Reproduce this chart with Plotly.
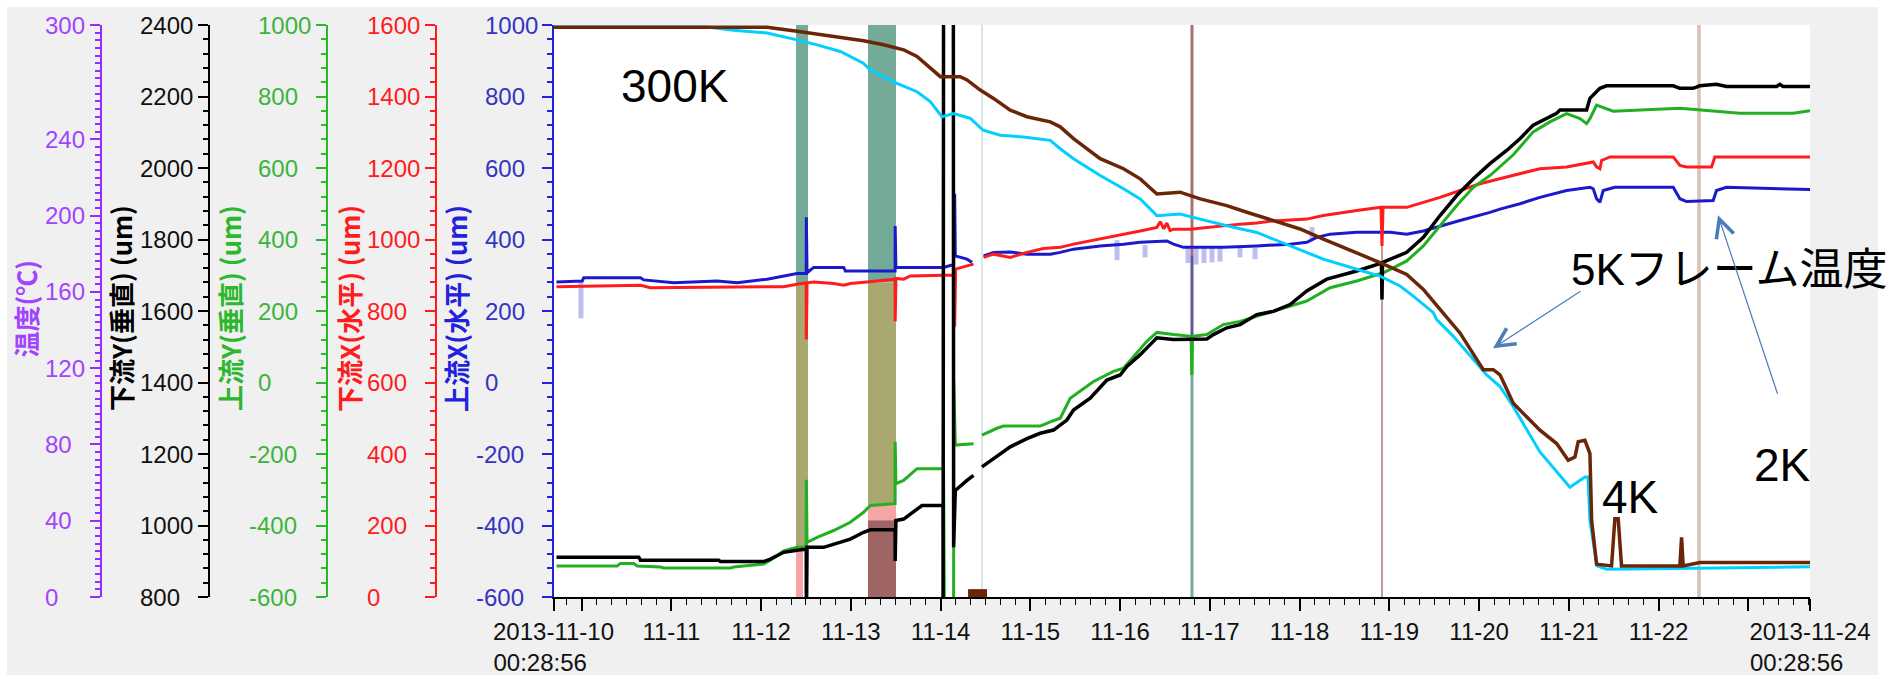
import pandas as pd
import plotly.graph_objects as go

START = pd.Timestamp("2013-11-10 00:28:56")


def to_time(days):
    return [None if d is None else START + pd.Timedelta(days=d) for d in days]


# ---------------- data (x in days since 2013-11-10 00:28:56) ----------------
# 上流X(水平) blue axis
blue_d = [0.033, 0.320, 0.337, 0.969, 1.006, 1.340, 1.823, 2.046, 2.380, 2.565, 2.714, 2.816, 2.817, 2.825,
          2.899, 3.233, 3.252, 3.806, 3.807, 3.815, 4.346, 4.458, 4.470, 4.477, 4.607, 4.663, 4.720, 4.792,
          4.903, 5.089, 5.275, 5.535, 5.646, 5.794, 6.091, 6.351, 6.537, 6.834, 6.908, 7.019, 7.464, 7.836,
          8.207, 8.393, 8.504, 8.653, 8.950, 9.321, 9.507, 9.692, 9.878, 10.100, 10.434, 10.546, 10.768,
          10.991, 11.288, 11.548, 11.585, 11.622, 11.659, 11.696, 11.826, 12.476, 12.550, 12.625, 12.921,
          12.958, 13.069, 13.589, 14.0]
blue_v = [281, 284, 293, 293, 287, 279, 284, 279, 289, 298, 305, 305, 462, 307,
          322, 322, 312, 312, 438, 322, 322, 330, 528, 354, 345, 336, None, 354,
          364, 365, 359, 359, 364, 373, 382, 387, 392, 396, 387, 378, 378, 382,
          387, 392, 406, 415, 420, 420, 415, 424, 438, 453, 476, 485, 500,
          518, 537, 546, 542, 514, 504, 537, 546, 546, 514, 506, 509,
          537, 546, 542, 540]

# 下流X(水平) red axis
red_d = [0.033, 0.969, 1.080, 2.565, 2.714, 2.816, 2.817, 2.825, 2.899, 3.121, 3.233, 3.307, 3.493, 3.806,
         3.807, 3.815, 3.901, 3.976, 4.346, 4.468, 4.470, 4.480, 4.680, 4.720, 4.792, 4.903, 5.089, 5.275,
         5.460, 5.646, 5.794, 6.091, 6.351, 6.537, 6.723, 6.760, 6.800, 6.834, 6.870, 6.908, 7.094, 7.279,
         7.464, 7.650, 7.836, 8.021, 8.393, 8.578, 8.950, 9.220, 9.231, 9.243, 9.507, 9.692, 9.878, 10.100,
         10.323, 10.620, 10.991, 11.288, 11.548, 11.585, 11.622, 11.659, 11.678, 11.771, 12.476, 12.550,
         12.625, 12.903, 12.940, 14.0]
red_v = [868, 872, 865, 868, 875, 879, 720, 879, 881, 877, 872, 877, 881, 889,
         771, 891, 889, 898, 900, 900, 756, 917, 931, None, 950, 959, 950, 964,
         975, 978, 987, 1001, 1015, 1024, 1034, 1050, 1030, 1046, 1025, 1029, 1029, 1034,
         1038, 1043, 1046, 1052, 1057, 1067, 1081, 1090, 982, 1090, 1090, 1104, 1118, 1137,
         1156, 1175, 1198, 1203, 1217, 1217, 1203, 1198, 1221, 1231, 1231, 1207,
         1203, 1203, 1231, 1231]

# 上流Y(垂直) green axis
green_d = [0.033, 0.709, 0.746, 0.894, 0.932, 1.192, 1.228, 1.971, 2.008, 2.342, 2.416, 2.565, 2.714, 2.816,
           2.817, 2.825, 2.937, 3.121, 3.307, 3.455, 3.530, 3.806, 3.807, 3.815, 3.901, 4.050, 4.346, 4.357,
           4.458, 4.459, 4.477, 4.680, 4.720, 4.774, 4.941, 5.014, 5.423, 5.535, 5.646, 5.757, 6.017, 6.239,
           6.351, 6.611, 6.723, 6.908, 7.104, 7.112, 7.120, 7.279, 7.464, 7.650, 8.021, 8.393, 8.653, 8.950,
           9.246, 9.507, 9.692, 9.878, 10.064, 10.249, 10.434, 10.694, 10.916, 11.102, 11.288, 11.437,
           11.511, 11.548, 11.622, 11.807, 12.550, 13.218, 13.812, 14.0]
green_v = [-513, -513, -506, -506, -513, -516, -519, -519, -516, -508, -497, -471, -461, -461,
           -272, -447, -433, -414, -391, -363, -344, -339, -166, -283, -274, -241, -241, -700,
           -700, 7, -175, -171, None, -147, -128, -122, -122, -110, -100, -44, 3, 31,
           40, 115, 140, 134, 129, 21, 129, 134, 162, 171, 199, 228, 265, 284,
           307, 340, 382, 438, 495, 546, 579, 637, 701, 729, 752, 738,
           724, 738, 776, 759, 767, 753, 753, 760]

# 下流Y(垂直) black axis
black_d = [0.033, 0.950, 0.969, 1.841, 1.860, 2.342, 2.416, 2.565, 2.714, 2.816, 2.817, 2.825, 3.010, 3.121,
           3.307, 3.455, 3.530, 3.806, 3.807, 3.815, 3.901, 4.050, 4.106, 4.340, 4.341, 4.346, 4.455, 4.458,
           4.477, 4.607, 4.680, 4.720, 4.774, 4.903, 5.089, 5.275, 5.423, 5.571, 5.720, 5.794, 5.980, 6.166,
           6.314, 6.389, 6.537, 6.648, 6.723, 6.908, 7.094, 7.279, 7.353, 7.502, 7.650, 7.836, 8.021, 8.207,
           8.393, 8.616, 8.950, 9.135, 9.225, 9.231, 9.237, 9.507, 9.692, 9.878, 10.064, 10.249, 10.434,
           10.620, 10.768, 10.916, 11.177, 11.214, 11.511, 11.548, 11.659, 11.734, 12.476, 12.550, 12.698,
           12.773, 12.958, 13.069, 13.627, 13.664, 13.700, 14.0]
black_v = [911, 911, 903, 903, 899, 899, 906, 925, 931, 934, 700, 939, 939, 948,
           962, 981, 988, 988, 901, 1014, 1018, 1047, 1056, 1056, 700, 2500, 2500, 939,
           1098, 1126, 1140, None, 1164, 1187, 1220, 1243, 1258, 1267, 1295, 1323, 1356, 1407,
           1421, 1445, 1478, 1506, 1525, 1520, 1520, 1522, 1534, 1553, 1562, 1590, 1599, 1618,
           1656, 1689, 1712, 1726, 1734, 1632, 1736, 1764, 1806, 1867, 1923, 1970, 2012,
           2049, 2082, 2120, 2153, 2162, 2162, 2195, 2223, 2230, 2230, 2223, 2223,
           2230, 2234, 2228, 2228, 2234, 2228, 2228]

# 温度 purple axis (two temperature sensors)
cyan_d = [0, 1.712, 2.004, 2.380, 2.714, 2.937, 3.196, 3.452, 3.530, 3.827, 4.050, 4.198, 4.328, 4.458,
          4.644, 4.788, 4.978, 5.234, 5.535, 5.646, 5.794, 6.091, 6.351, 6.537, 6.723, 6.982, 7.205, 7.502,
          7.836, 8.207, 8.578, 8.950, 9.209, 9.432, 9.580, 9.803, 9.841, 10.026, 10.398, 10.546, 10.694,
          10.991, 11.325, 11.492, 11.526, 11.548, 11.626, 11.737, 14.0]
cyan_v = [299, 299, 297.2, 295.8, 292.2, 289.6, 286.1, 280.0, 276.4, 269.4, 265.0, 259.8, 251.9, 253.6,
          251.0, 244.8, 242.2, 241.3, 239.5, 235.1, 229.9, 221.1, 214.1, 208.8, 200.0, 200.9, 198.2, 194.7,
          191.2, 184.2, 177.2, 171.9, 168.3, 163.1, 157.8, 149.1, 145.5, 136.7, 116.5, 110.4, 99.8,
          76.1, 57.6, 62.9, 62.9, 40.1, 16.3, 14.6, 15.8]

brown_d = [0, 2.380, 2.714, 2.937, 3.196, 3.455, 3.678, 3.827, 3.901, 4.050, 4.310, 4.532, 4.607, 4.755,
           4.903, 5.089, 5.275, 5.535, 5.646, 5.794, 6.091, 6.351, 6.537, 6.723, 6.982, 7.205, 7.502, 7.725,
           8.021, 8.318, 8.578, 8.950, 9.209, 9.507, 9.692, 9.878, 10.100, 10.360, 10.471, 10.546, 10.694,
           10.843, 10.991, 11.177, 11.306, 11.381, 11.417, 11.492, 11.548, 11.567, 11.622, 11.789, 11.826,
           11.863, 11.900, 12.476, 12.550, 12.569, 12.587, 12.773, 14.0]
brown_v = [298.8, 298.8, 296.7, 295.3, 293.5, 291.7, 289.6, 287.9, 287.0, 283.5, 272.9, 272.9, 271.2, 265.9,
           261.5, 255.3, 251.9, 249.2, 246.6, 240.4, 229.9, 224.6, 219.3, 211.4, 212.3, 208.8, 205.3, 201.8,
           197.3, 193.0, 187.7, 180.7, 175.4, 169.2, 161.3, 150.8, 138.5, 119.2, 119.2, 116.5, 101.6,
           94.5, 87.5, 80.5, 71.7, 73.4, 81.4, 82.2, 75.2, 40.1, 17.2, 16.3, 41.0,
           41.0, 16.3, 16.3, 16.3, 31.3, 16.3, 18.1, 18.1]

# shaded event bands (blue-axis units)
band_start = [2.702, 2.702, 2.702, 3.504, 3.504, 3.504, 3.504]
band_end = [2.836, 2.836, 2.780, 3.816, 3.816, 3.816, 3.816]
band_low = [278, -461, -600, 280, -343, -385, -600]
band_high = [1000, 278, -461, 1000, 280, -343, -385]

# thin vertical event markers (blue-axis units)
mark_day = [7.114, 7.114, 7.114, 9.231, 12.763, 4.774]
mark_low = [356, 132, -600, -600, -600, -600]
mark_high = [1000, 356, 132, 493, 1000, 1000]

# small brown block near the bottom
block_day = [4.619, 4.830]
block_val = [-600, -578]

# faint noise of 上流X
noise_day = [0.306, 6.279, 6.591, 7.070, 7.159, 7.248, 7.337, 7.426, 7.649, 7.816, 8.451]
noise_high = [284, 398, 384, 376, 376, 376, 376, 376, 376, 376, 435]
noise_low = [180, 342, 350, 334, 330, 334, 336, 338, 350, 345, 400]

# axis tick values
blue_ticks = [-600, -400, -200, 0, 200, 400, 600, 800, 1000]
red_ticks = [0, 200, 400, 600, 800, 1000, 1200, 1400, 1600]
green_ticks = [-600, -400, -200, 0, 200, 400, 600, 800, 1000]
black_ticks = [800, 1000, 1200, 1400, 1600, 1800, 2000, 2200, 2400]
purple_ticks = [0, 40, 80, 120, 160, 200, 240, 300]

x_tick_vals = ["2013-11-10 00:28:56", "2013-11-10 08:00", "2013-11-11 08:00", "2013-11-12 08:00",
               "2013-11-13 08:00", "2013-11-14 08:00", "2013-11-15 08:00", "2013-11-16 08:00",
               "2013-11-17 08:00", "2013-11-18 08:00", "2013-11-19 08:00", "2013-11-20 08:00",
               "2013-11-21 08:00", "2013-11-22 08:00", "2013-11-23 08:00", "2013-11-24 00:28:56"]
NB = "\u00a0"
x_tick_text = ["2013-11-10<br>00:28:56" + NB * 4, "", "11-11", "11-12", "11-13", "11-14", "11-15", "11-16",
               "11-17", "11-18", "11-19", "11-20", "11-21", "11-22", "", "2013-11-24<br>00:28:56" + NB * 4]

# ---------------- styling / geometry ----------------
W, H = 1899, 675
ML, MR, MT, MB = 0, 89, 25, 78
PW = W - ML - MR          # 1810
PH = H - MT - MB          # 572
X_LEFT = 553.5


def px_x(p):
    return p / PW


def px_y(p):
    return (H - MB - p) / PH


NUM_FONT = "Liberation Sans, Arial, sans-serif"
CJK_FONT = "Noto Sans CJK JP, sans-serif"

C_BLUE, C_BLUE_AX, C_BLUE_TX = "#1a1acc", "#2222dd", "#3434c0"
C_RED = "#ff1c1c"
C_GREEN, C_GREEN_AX, C_GREEN_TX = "#22b022", "#2cb82c", "#3cb43c"
C_BLACK = "#000000"
C_PURPLE, C_PURPLE_TX = "#9a2bff", "#a244ff"
C_CYAN = "#00cfff"
C_BROWN = "#6b2608"

band_colors = ["#73aa98", "#a8a870", "#f5a5a5", "#73aa98", "#a8a870", "#f5a5a5", "#9f6464"]
mark_colors = ["#a87070", "#5a5a96", "#78aa9c", "#c49a9a", "#d9c0b4", "#cadede"]
mark_widths = [3, 3, 3, 2, 3.5, 1.5]

fig = go.Figure()

for d0, d1, lo, hi, col in zip(band_start, band_end, band_low, band_high, band_colors):
    fig.add_trace(go.Scatter(x=to_time([d0, d1, d1, d0, d0]), y=[lo, lo, hi, hi, lo], yaxis="y",
                             mode="lines", fill="toself", fillcolor=col, line=dict(width=0, color=col),
                             hoverinfo="skip", showlegend=False))

for d, lo, hi, col, w in zip(mark_day, mark_low, mark_high, mark_colors, mark_widths):
    fig.add_trace(go.Scatter(x=to_time([d, d]), y=[lo, hi], yaxis="y", mode="lines",
                             line=dict(color=col, width=w), hoverinfo="skip", showlegend=False))

nx, ny = [], []
for d, lo, hi in zip(noise_day, noise_low, noise_high):
    nx += [d, d, None]
    ny += [lo, hi, None]
fig.add_trace(go.Scatter(x=to_time(nx), y=ny, yaxis="y", mode="lines",
                         line=dict(color="rgba(110,110,225,0.45)", width=5), hoverinfo="skip",
                         showlegend=False))

fig.add_trace(go.Scatter(x=to_time([block_day[0], block_day[1], block_day[1], block_day[0], block_day[0]]),
                         y=[block_val[0], block_val[0], block_val[1], block_val[1], block_val[0]], yaxis="y",
                         mode="lines", fill="toself", fillcolor=C_BROWN, line=dict(width=0, color=C_BROWN),
                         hoverinfo="skip", showlegend=False))


def add_series(d, v, axis, color, width, name):
    fig.add_trace(go.Scatter(x=to_time(d), y=v, yaxis=axis, mode="lines", name=name,
                             line=dict(color=color, width=width), connectgaps=False,
                             hoverinfo="skip", showlegend=False))


add_series(red_d, red_v, "y2", C_RED, 3, "下流X(水平)")
add_series(blue_d, blue_v, "y", C_BLUE, 3, "上流X(水平)")
add_series(green_d, green_v, "y3", C_GREEN, 3, "上流Y(垂直)")
add_series(black_d, black_v, "y4", C_BLACK, 3.5, "下流Y(垂直)")
add_series(cyan_d, cyan_v, "y5", C_CYAN, 3, "温度1")
add_series(brown_d, brown_v, "y5", C_BROWN, 3.5, "温度2")


def yaxis_cfg(color, rng, ticks, minor_dtick, position=None):
    cfg = dict(range=rng, tickmode="array", tickvals=ticks, showticklabels=False,
               ticks="outside", ticklen=10, tickwidth=2, tickcolor=color,
               showline=True, linewidth=2, linecolor=color, showgrid=False, zeroline=False,
               minor=dict(dtick=minor_dtick, tick0=0, ticks="outside", ticklen=5, tickwidth=1.5,
                          tickcolor=color, showgrid=False),
               fixedrange=True, automargin=False)
    if position is not None:
        cfg.update(overlaying="y", anchor="free", position=position, side="left")
    else:
        cfg.update(anchor="x", side="left")
    return cfg


AX_POS = {"purple": 100.7, "black": 209, "green": 327, "red": 436}

fig.update_layout(
    width=W, height=H,
    margin=dict(l=ML, r=MR, t=MT, b=MB, pad=0, autoexpand=False),
    paper_bgcolor="#f0f0f0", plot_bgcolor="#ffffff",
    showlegend=False,
    xaxis=dict(type="date", domain=[px_x(X_LEFT), 1.0],
               range=["2013-11-10 00:28:56", "2013-11-24 00:28:56"],
               tickmode="array", tickvals=x_tick_vals, ticktext=x_tick_text,
               ticks="outside", ticklen=12, tickwidth=1.5, tickcolor="#000",
               showline=True, linewidth=2, linecolor="#000", showgrid=False, zeroline=False,
               tickfont=dict(family=NUM_FONT, size=24, color="#111"), tickangle=0,
               minor=dict(dtick=4 * 3600 * 1000, tick0="2013-11-10 00:00:00", ticks="outside",
                          ticklen=6, tickwidth=1.2, tickcolor="#000", showgrid=False),
               fixedrange=True, automargin=False),
    yaxis=yaxis_cfg(C_BLUE_AX, [-600, 1000], blue_ticks, 40),
    yaxis2=yaxis_cfg(C_RED, [0, 1600], red_ticks, 40, px_x(AX_POS["red"])),
    yaxis3=yaxis_cfg(C_GREEN_AX, [-600, 1000], green_ticks, 40, px_x(AX_POS["green"])),
    yaxis4=yaxis_cfg(C_BLACK, [800, 2400], black_ticks, 40, px_x(AX_POS["black"])),
    yaxis5=yaxis_cfg(C_PURPLE, [0, 300], purple_ticks, 4, px_x(AX_POS["purple"])),
)

annotations = []
# y tick labels (left aligned like the original)
label_specs = [
    (purple_ticks, "y5", 44, C_PURPLE_TX),
    (black_ticks, "y4", 138.5, "#111111"),
    (green_ticks, "y3", 257, C_GREEN_TX),
    (red_ticks, "y2", 366, C_RED),
    (blue_ticks, "y", 484, C_BLUE_TX),
]
for vals, axis, x0, col in label_specs:
    for v in vals:
        xp = x0 - (9 if v < 0 else 0) - 1
        annotations.append(dict(x=px_x(xp), xref="paper", y=v, yref=axis, text=str(v),
                                showarrow=False, xanchor="left", yanchor="middle",
                                font=dict(family=NUM_FONT, size=24, color=col)))

# axis titles
title_specs = [
    ("温度(℃)", 25, C_PURPLE_TX),
    ("下流Y(垂直) (um)", 120.5, "#000000"),
    ("上流Y(垂直) (um)", 229.5, C_GREEN_AX),
    ("下流X(水平) (um)", 348.5, C_RED),
    ("上流X(水平) (um)", 455.5, C_BLUE_AX),
]
for txt, xc, col in title_specs:
    annotations.append(dict(x=px_x(xc), xref="paper", y=px_y(308.5), yref="paper",
                            text="<b>" + txt + "</b>", textangle=-90, showarrow=False,
                            xanchor="center", yanchor="middle",
                            font=dict(family=CJK_FONT, size=26, color=col)))

BIG_FONT = "Liberation Sans, Arial, Noto Sans CJK JP, sans-serif"
text_labels = [("300K", 1.354, 828, 46), ("5Kフレーム温度", 13.10, 317, 44),
               ("4K", 12.005, -321, 46), ("2K", 13.688, -231, 46)]
for txt, d, v, fs in text_labels:
    annotations.append(dict(x=to_time([d])[0], xref="x", y=v, yref="y", text=txt, showarrow=False,
                            xanchor="center", yanchor="middle",
                            font=dict(family=BIG_FONT, size=fs, color="#000000")))

arrow_specs = [(10.468, 96, 89, -58), (12.975, 468, 60, 180)]
for d, v, ax, ay in arrow_specs:
    annotations.append(dict(x=to_time([d])[0], xref="x", y=v, yref="y", text="", showarrow=True,
                            ax=ax, ay=ay, arrowhead=5, arrowsize=3, arrowwidth=1.2,
                            arrowcolor="#4a7ebb"))

fig.update_layout(annotations=annotations)

# white outer border strips (page frame)
for x0, x1, y0, y1 in [(0, 7, 0, H), (0, W, 0, 7), (1878, W, 0, H)]:
    fig.add_shape(type="rect", xref="paper", yref="paper", x0=px_x(x0), x1=px_x(x1),
                  y0=px_y(y1), y1=px_y(y0), fillcolor="#ffffff", line=dict(width=0), layer="below")

fig.write_html("out.html", config={"displayModeBar": False})
